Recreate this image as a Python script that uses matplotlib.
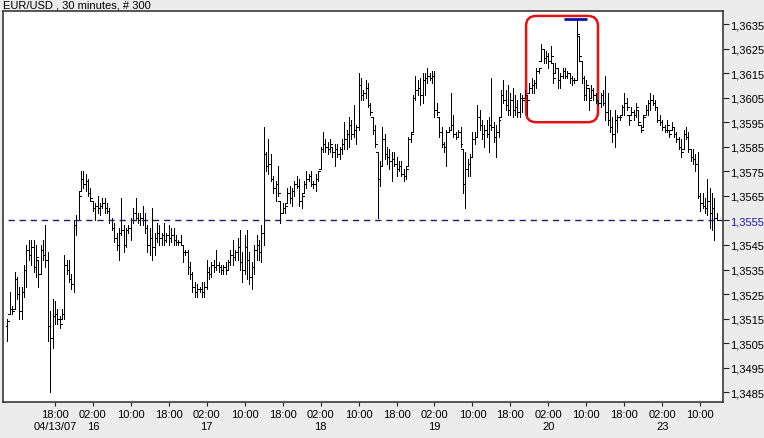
import matplotlib
matplotlib.use("Agg")
import matplotlib.pyplot as plt
from matplotlib.patches import FancyBboxPatch
from matplotlib.ticker import FixedLocator, FuncFormatter

plt.rcParams['font.family'] = ['Liberation Sans', 'DejaVu Sans']

title = "EUR/USD , 30 minutes, # 300"

high = [
1.3515,1.3526,1.3520,1.3534,1.3532,1.3528,1.3528,1.3537,1.3545,1.3547,
1.3547,1.3547,1.3545,1.3539,1.3545,1.3547,1.3553,1.3542,1.3518,1.3523,
1.3522,1.3519,1.3516,1.3519,1.3541,1.3539,1.3539,1.3533,1.3555,1.3557,
1.3567,1.3575,1.3575,1.3574,1.3572,1.3568,1.3563,1.3562,1.3565,1.3562,
1.3564,1.3564,1.3562,1.3560,1.3556,1.3554,1.3550,1.3552,1.3564,1.3553,
1.3552,1.3553,1.3556,1.3560,1.3564,1.3558,1.3558,1.3561,1.3558,1.3553,
1.3552,1.3560,1.3550,1.3554,1.3553,1.3550,1.3554,1.3550,1.3553,1.3552,
1.3552,1.3549,1.3547,1.3549,1.3545,1.3543,1.3543,1.3538,1.3534,1.3530,
1.3529,1.3528,1.3530,1.3530,1.3539,1.3536,1.3538,1.3539,1.3543,1.3538,
1.3537,1.3537,1.3538,1.3539,1.3543,1.3547,1.3543,1.3548,1.3551,1.3542,
1.3549,1.3551,1.3542,1.3538,1.3545,1.3549,1.3547,1.3553,1.3593,1.3583,
1.3588,1.3582,1.3573,1.3571,1.3577,1.3563,1.3562,1.3562,1.3568,1.3569,
1.3568,1.3571,1.3573,1.3572,1.3566,1.3571,1.3575,1.3574,1.3575,1.3571,
1.3574,1.3575,1.3585,1.3591,1.3588,1.3587,1.3588,1.3585,1.3586,1.3586,
1.3585,1.3588,1.3595,1.3592,1.3597,1.3596,1.3602,1.3594,1.3615,1.3613,
1.3608,1.3612,1.3611,1.3603,1.3597,1.3594,1.3583,1.3579,1.3593,1.3590,
1.3585,1.3584,1.3583,1.3583,1.3581,1.3579,1.3579,1.3576,1.3577,1.3589,
1.3591,1.3606,1.3614,1.3612,1.3613,1.3615,1.3615,1.3617,1.3615,1.3616,
1.3616,1.3603,1.3597,1.3593,1.3587,1.3592,1.3593,1.3607,1.3598,1.3591,
1.3592,1.3593,1.3584,1.3583,1.3580,1.3582,1.3591,1.3591,1.3602,1.3600,
1.3596,1.3594,1.3596,1.3597,1.3613,1.3595,1.3594,1.3597,1.3608,1.3612,
1.3608,1.3610,1.3607,1.3609,1.3606,1.3604,1.3607,1.3606,1.3608,1.3606,
1.3611,1.3613,1.3612,1.3617,1.3617,1.3627,1.3625,1.3624,1.3623,1.3626,
1.3619,1.3619,1.3617,1.3615,1.3617,1.3617,1.3616,1.3615,1.3614,1.3613,
1.3637,1.3630,1.3620,1.3614,1.3612,1.3609,1.3610,1.3609,1.3607,1.3604,
1.3607,1.3608,1.3614,1.3607,1.3600,1.3597,1.3600,1.3598,1.3598,1.3602,
1.3607,1.3605,1.3598,1.3601,1.3600,1.3603,1.3600,1.3594,1.3598,1.3602,
1.3604,1.3607,1.3606,1.3604,1.3601,1.3598,1.3596,1.3594,1.3596,1.3592,
1.3595,1.3593,1.3591,1.3589,1.3588,1.3592,1.3593,1.3591,1.3584,1.3584,
1.3582,1.3583,1.3566,1.3566,1.3564,1.3572,1.3568,1.3566,1.3564,1.3558]

low = [
1.3506,1.3517,1.3517,1.3519,1.3523,1.3515,1.3515,1.3524,1.3528,1.3539,
1.3537,1.3534,1.3532,1.3528,1.3533,1.3539,1.3536,1.3506,1.3485,1.3503,
1.3513,1.3513,1.3511,1.3515,1.3515,1.3533,1.3530,1.3527,1.3526,1.3549,
1.3555,1.3567,1.3568,1.3567,1.3565,1.3563,1.3559,1.3555,1.3558,1.3557,
1.3560,1.3558,1.3558,1.3554,1.3551,1.3546,1.3543,1.3539,1.3549,1.3542,
1.3544,1.3550,1.3547,1.3554,1.3555,1.3554,1.3553,1.3553,1.3550,1.3542,
1.3541,1.3539,1.3541,1.3546,1.3545,1.3545,1.3545,1.3546,1.3545,1.3546,
1.3545,1.3545,1.3545,1.3545,1.3538,1.3541,1.3533,1.3531,1.3526,1.3524,
1.3524,1.3526,1.3524,1.3524,1.3527,1.3531,1.3532,1.3534,1.3535,1.3534,
1.3533,1.3533,1.3533,1.3535,1.3537,1.3537,1.3539,1.3539,1.3535,1.3530,
1.3533,1.3531,1.3529,1.3527,1.3533,1.3539,1.3539,1.3538,1.3545,1.3575,
1.3574,1.3571,1.3566,1.3563,1.3565,1.3554,1.3558,1.3558,1.3562,1.3562,
1.3561,1.3565,1.3568,1.3561,1.3560,1.3566,1.3568,1.3571,1.3569,1.3568,
1.3567,1.3571,1.3576,1.3583,1.3583,1.3582,1.3583,1.3581,1.3577,1.3581,
1.3580,1.3582,1.3584,1.3584,1.3585,1.3588,1.3589,1.3586,1.3592,1.3604,
1.3604,1.3605,1.3601,1.3598,1.3590,1.3585,1.3556,1.3569,1.3577,1.3580,
1.3578,1.3576,1.3571,1.3577,1.3573,1.3575,1.3573,1.3571,1.3572,1.3577,
1.3587,1.3591,1.3604,1.3606,1.3602,1.3603,1.3606,1.3611,1.3612,1.3611,
1.3597,1.3598,1.3589,1.3585,1.3583,1.3577,1.3591,1.3592,1.3589,1.3588,
1.3589,1.3585,1.3566,1.3560,1.3573,1.3573,1.3581,1.3586,1.3589,1.3592,
1.3588,1.3585,1.3589,1.3583,1.3592,1.3587,1.3581,1.3589,1.3597,1.3603,
1.3600,1.3598,1.3598,1.3597,1.3598,1.3597,1.3597,1.3599,1.3605,1.3598,
1.3607,1.3607,1.3607,1.3609,1.3615,1.3620,1.3619,1.3619,1.3617,1.3619,
1.3611,1.3615,1.3609,1.3609,1.3613,1.3613,1.3613,1.3611,1.3610,1.3611,
1.3612,1.3620,1.3611,1.3604,1.3604,1.3600,1.3605,1.3604,1.3603,1.3602,
1.3601,1.3602,1.3596,1.3594,1.3591,1.3587,1.3585,1.3591,1.3596,1.3598,
1.3598,1.3600,1.3594,1.3598,1.3596,1.3597,1.3594,1.3591,1.3593,1.3598,
1.3598,1.3600,1.3602,1.3600,1.3595,1.3594,1.3592,1.3591,1.3591,1.3589,
1.3592,1.3589,1.3587,1.3584,1.3581,1.3584,1.3588,1.3583,1.3579,1.3578,
1.3575,1.3564,1.3559,1.3560,1.3558,1.3557,1.3552,1.3551,1.3547,1.3555]

open_ = [
1.3512,1.3517,1.3519,1.3519,1.3531,1.3525,1.3518,1.3526,1.3535,1.3543,
1.3541,1.3544,1.3536,1.3539,1.3533,1.3543,1.3541,1.3539,1.3512,1.3507,
1.3516,1.3517,1.3515,1.3515,1.3517,1.3537,1.3535,1.3531,1.3529,1.3553,
1.3555,1.3567,1.3572,1.3570,1.3571,1.3566,1.3563,1.3560,1.3561,1.3560,
1.3561,1.3562,1.3560,1.3559,1.3555,1.3552,1.3548,1.3545,1.3550,1.3551,
1.3545,1.3551,1.3552,1.3555,1.3558,1.3556,1.3555,1.3556,1.3555,1.3552,
1.3545,1.3548,1.3544,1.3548,1.3550,1.3548,1.3549,1.3547,1.3549,1.3548,
1.3549,1.3547,1.3546,1.3546,1.3545,1.3542,1.3542,1.3536,1.3533,1.3528,
1.3526,1.3527,1.3527,1.3526,1.3528,1.3534,1.3533,1.3537,1.3536,1.3537,
1.3536,1.3535,1.3536,1.3535,1.3538,1.3541,1.3540,1.3542,1.3544,1.3538,
1.3535,1.3544,1.3539,1.3532,1.3536,1.3543,1.3545,1.3542,1.3550,1.3582,
1.3577,1.3578,1.3572,1.3568,1.3570,1.3563,1.3558,1.3560,1.3562,1.3566,
1.3564,1.3567,1.3570,1.3569,1.3563,1.3566,1.3570,1.3572,1.3573,1.3570,
1.3570,1.3572,1.3576,1.3584,1.3586,1.3585,1.3584,1.3585,1.3583,1.3584,
1.3582,1.3584,1.3586,1.3588,1.3590,1.3594,1.3590,1.3592,1.3593,1.3610,
1.3606,1.3607,1.3609,1.3602,1.3597,1.3592,1.3583,1.3572,1.3577,1.3588,
1.3582,1.3581,1.3579,1.3580,1.3578,1.3576,1.3577,1.3574,1.3573,1.3577,
1.3588,1.3591,1.3605,1.3608,1.3609,1.3606,1.3612,1.3613,1.3614,1.3613,
1.3614,1.3600,1.3597,1.3591,1.3586,1.3585,1.3591,1.3592,1.3594,1.3590,
1.3589,1.3591,1.3584,1.3570,1.3576,1.3578,1.3581,1.3588,1.3589,1.3597,
1.3594,1.3590,1.3592,1.3590,1.3594,1.3593,1.3589,1.3591,1.3597,1.3606,
1.3604,1.3602,1.3600,1.3604,1.3600,1.3601,1.3599,1.3605,1.3605,1.3606,
1.3607,1.3609,1.3610,1.3611,1.3616,1.3620,1.3625,1.3621,1.3622,1.3620,
1.3619,1.3615,1.3617,1.3612,1.3614,1.3616,1.3614,1.3615,1.3613,1.3612,
1.3612,1.3630,1.3620,1.3613,1.3606,1.3609,1.3605,1.3608,1.3606,1.3604,
1.3603,1.3606,1.3603,1.3599,1.3596,1.3593,1.3590,1.3596,1.3597,1.3598,
1.3601,1.3603,1.3598,1.3598,1.3599,1.3598,1.3600,1.3594,1.3593,1.3598,
1.3600,1.3603,1.3604,1.3603,1.3601,1.3596,1.3595,1.3593,1.3592,1.3592,
1.3592,1.3593,1.3590,1.3588,1.3585,1.3584,1.3590,1.3589,1.3584,1.3581,
1.3580,1.3578,1.3565,1.3562,1.3561,1.3560,1.3563,1.3558,1.3560,1.3556]

close = [
1.3514,1.3519,1.3518,1.3531,1.3525,1.3518,1.3526,1.3535,1.3543,1.3541,
1.3544,1.3536,1.3540,1.3533,1.3543,1.3541,1.3539,1.3512,1.3507,1.3516,
1.3517,1.3515,1.3513,1.3517,1.3537,1.3535,1.3531,1.3529,1.3553,1.3555,
1.3565,1.3572,1.3570,1.3571,1.3566,1.3564,1.3560,1.3561,1.3560,1.3561,
1.3562,1.3560,1.3559,1.3555,1.3552,1.3548,1.3545,1.3550,1.3551,1.3545,
1.3551,1.3552,1.3555,1.3558,1.3556,1.3555,1.3556,1.3555,1.3552,1.3545,
1.3548,1.3544,1.3548,1.3550,1.3548,1.3549,1.3547,1.3549,1.3548,1.3549,
1.3547,1.3546,1.3546,1.3545,1.3542,1.3542,1.3536,1.3533,1.3528,1.3526,
1.3527,1.3527,1.3526,1.3528,1.3534,1.3533,1.3537,1.3536,1.3537,1.3536,
1.3535,1.3536,1.3535,1.3538,1.3541,1.3540,1.3542,1.3544,1.3538,1.3535,
1.3544,1.3539,1.3532,1.3536,1.3543,1.3545,1.3542,1.3550,1.3582,1.3577,
1.3578,1.3572,1.3568,1.3570,1.3566,1.3558,1.3560,1.3561,1.3566,1.3564,
1.3567,1.3570,1.3569,1.3563,1.3565,1.3570,1.3572,1.3573,1.3570,1.3570,
1.3572,1.3575,1.3584,1.3586,1.3585,1.3584,1.3586,1.3583,1.3584,1.3582,
1.3584,1.3586,1.3588,1.3590,1.3594,1.3590,1.3592,1.3593,1.3610,1.3606,
1.3607,1.3609,1.3602,1.3599,1.3592,1.3586,1.3572,1.3577,1.3588,1.3582,
1.3581,1.3579,1.3580,1.3578,1.3576,1.3577,1.3574,1.3573,1.3576,1.3588,
1.3590,1.3605,1.3608,1.3609,1.3606,1.3612,1.3613,1.3614,1.3613,1.3614,
1.3600,1.3599,1.3591,1.3586,1.3585,1.3591,1.3592,1.3594,1.3590,1.3589,
1.3591,1.3586,1.3570,1.3576,1.3578,1.3581,1.3588,1.3589,1.3597,1.3594,
1.3590,1.3592,1.3590,1.3594,1.3593,1.3589,1.3591,1.3596,1.3606,1.3604,
1.3602,1.3600,1.3604,1.3600,1.3601,1.3599,1.3605,1.3604,1.3606,1.3604,
1.3609,1.3610,1.3611,1.3616,1.3617,1.3625,1.3621,1.3622,1.3620,1.3622,
1.3613,1.3617,1.3612,1.3614,1.3616,1.3614,1.3615,1.3613,1.3612,1.3612,
1.3631,1.3622,1.3613,1.3606,1.3610,1.3604,1.3608,1.3606,1.3604,1.3603,
1.3606,1.3603,1.3599,1.3596,1.3593,1.3590,1.3596,1.3597,1.3597,1.3601,
1.3603,1.3601,1.3596,1.3599,1.3598,1.3601,1.3595,1.3592,1.3597,1.3600,
1.3603,1.3604,1.3603,1.3601,1.3596,1.3595,1.3593,1.3592,1.3594,1.3590,
1.3593,1.3590,1.3588,1.3585,1.3583,1.3590,1.3589,1.3584,1.3581,1.3580,
1.3578,1.3565,1.3562,1.3561,1.3560,1.3563,1.3558,1.3560,1.3556,1.3555]

# x-axis labels (bar index of each tick, time text, date text)
tick_bars = [20, 36, 52, 68, 84, 100, 116, 132, 148, 164, 180, 196, 212, 228, 244, 260, 276, 292]
tick_times = ["18:00", "02:00", "10:00"] * 6
tick_dates = {20: "04/13/07", 36: "16", 84: "17", 132: "18", 180: "19", 228: "20", 276: "23"}

y_ticks = [1.3485, 1.3495, 1.3505, 1.3515, 1.3525, 1.3535, 1.3545,
           1.3555, 1.3565, 1.3575, 1.3585, 1.3595, 1.3605, 1.3615, 1.3625, 1.3635]

# highlighted region (bar index range, price range)
box_bars = (218.6, 248.9)
box_prices = (1.35950, 1.36383)
peak_bar = 240
peak_span = (234.6, 244.3)

BG = '#ececec'
fig = plt.figure(figsize=(7.64, 4.39), dpi=100, facecolor=BG)
ax = fig.add_axes([2.7/764, 36.3/439, 720/764, 390.7/439])
ax.set_facecolor('white')

n = len(high)
xs = list(range(n))
tw = 0.8
LW = 0.72  # one pixel
ax.vlines(xs, low, high, color='black', lw=LW, antialiased=False)
ax.hlines(open_, [x - tw for x in xs], xs, color='black', lw=LW, antialiased=False)
ax.hlines(close, xs, [x + tw for x in xs], color='black', lw=LW, antialiased=False)

# last price dashed line
ax.axhline(close[-1], color='#1c1c7a', lw=1.0, ls=(0, (4.5, 3.5)), xmin=0.008)

# peak marker
ax.hlines(high[peak_bar], peak_span[0], peak_span[1], color='#1010a0', lw=2.0)

ax.set_xlim(-2.0, 301.5)
ax.set_ylim(1.348115, 1.36403)

# rounded highlight box
rx = 4.3
aspect = (10 / 24550) / rx
box = FancyBboxPatch((box_bars[0], box_prices[0]), box_bars[1] - box_bars[0],
                     box_prices[1] - box_prices[0],
                     boxstyle=f"round,pad=0,rounding_size={rx}",
                     mutation_aspect=aspect, fill=False, ec='#e01414', lw=1.8)
ax.add_patch(box)

# axes styling
for s in ax.spines.values():
    s.set_color('#3a3a3a')
    s.set_linewidth(1.2)

ax.yaxis.tick_right()
ax.yaxis.set_major_locator(FixedLocator(y_ticks))
ax.yaxis.set_major_formatter(FuncFormatter(lambda v, p: f"{v:.4f}".replace('.', ',')))
ax.tick_params(axis='y', direction='out', length=4, width=0.8, pad=1, labelsize=8, colors='#222222')
for lbl, v in zip(ax.get_yticklabels(), y_ticks):
    lbl.set_color('#1c1c9a' if abs(v - close[-1]) < 1e-6 else 'black')

ax.xaxis.set_major_locator(FixedLocator(tick_bars))
xlabels = [t + ("\n" + tick_dates[b] if b in tick_dates else "\n") for b, t in zip(tick_bars, tick_times)]
ax.set_xticklabels(xlabels, linespacing=1.3)
ax.tick_params(axis='x', direction='out', length=3, width=0.8, pad=2, labelsize=8, colors='#222222')
for lbl in ax.get_xticklabels():
    lbl.set_color('black')

fig.text(3/764, 1 - 1/439, title, ha='left', va='top', fontsize=8, color='black')

fig.savefig('out.png', dpi=100, facecolor=BG)
